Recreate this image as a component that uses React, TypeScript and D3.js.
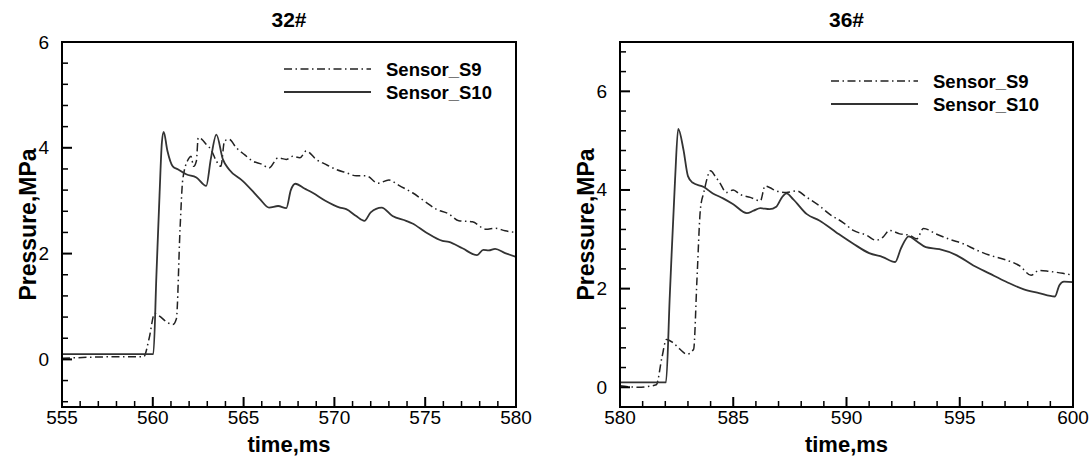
import React from "react";
import * as d3 from "d3";

// panel 32#  (time ms, pressure MPa)
const s9_32: [number, number][] = [
  [555, 0.02], [556.5, 0.04], [558, 0.05], [559.5, 0.05], [559.8, 0.4], [560.1, 0.87],
  [560.37, 0.82], [560.75, 0.71], [561.1, 0.66], [561.3, 0.77], [561.5, 2.46],
  [561.65, 3.4], [561.95, 3.78], [562.1, 3.84], [562.25, 3.65], [562.4, 3.75],
  [562.5, 4.19], [562.7, 4.16], [562.95, 4.06], [563.2, 3.97], [563.5, 3.75],
  [563.75, 3.65], [563.95, 4.13], [564.2, 4.16], [564.6, 4.0], [565.05, 3.87],
  [565.5, 3.75], [566.0, 3.69], [566.4, 3.62], [566.9, 3.81], [567.35, 3.78],
  [567.7, 3.84], [568.1, 3.81], [568.45, 3.94], [569.0, 3.78], [569.5, 3.69],
  [570.1, 3.59], [570.65, 3.53], [571.2, 3.47], [571.75, 3.47], [572.4, 3.33],
  [573.0, 3.39], [573.6, 3.28], [574.3, 3.15], [575.05, 2.97], [575.6, 2.84],
  [576.3, 2.75], [576.85, 2.62], [577.6, 2.6], [578.35, 2.46], [578.85, 2.48],
  [579.4, 2.43], [580, 2.4],
];

const s10_32: [number, number][] = [
  [555, 0.1], [558, 0.1], [560.03, 0.1], [560.2, 1.6], [560.37, 3.1], [560.5, 4.1],
  [560.6, 4.3], [560.8, 3.95], [561.1, 3.65], [561.4, 3.59], [561.84, 3.5],
  [562.4, 3.44], [562.94, 3.28], [563.2, 3.8], [563.5, 4.25], [563.86, 3.78],
  [564.2, 3.59], [564.96, 3.37], [565.5, 3.18], [565.9, 3.03], [566.4, 2.87],
  [566.9, 2.9], [567.35, 2.86], [567.6, 3.2], [567.85, 3.32], [568.35, 3.23],
  [568.8, 3.15], [569.5, 3.0], [570.3, 2.87], [570.65, 2.84], [571.2, 2.71],
  [571.65, 2.62], [572.0, 2.78], [572.6, 2.87], [573.2, 2.71], [573.95, 2.62],
  [574.3, 2.57], [575.05, 2.4], [575.95, 2.24], [576.3, 2.22], [577.05, 2.1],
  [577.85, 1.97], [578.2, 2.07], [578.5, 2.06], [578.85, 2.09], [579.4, 2.01],
  [580, 1.94],
];

// panel 36#
const s9_36: [number, number][] = [
  [580, 0.03], [580.8, 0.0], [581.6, 0.05], [581.85, 0.6], [582.05, 0.97],
  [582.35, 0.9], [582.65, 0.77], [582.95, 0.67], [583.25, 0.77], [583.4, 2.21],
  [583.55, 3.61], [583.7, 3.95], [584.0, 4.39], [584.2, 4.28], [584.4, 4.15],
  [584.7, 3.95], [585.0, 4.0], [585.3, 3.91], [585.75, 3.85], [586.2, 3.78],
  [586.4, 4.08], [586.6, 4.05], [586.9, 3.98], [587.35, 3.95], [587.8, 3.98],
  [588.25, 3.85], [588.8, 3.68], [589.25, 3.51], [589.85, 3.34], [590.3, 3.18],
  [590.9, 3.08], [591.3, 2.98], [591.6, 3.04], [591.9, 3.18], [592.35, 3.11],
  [592.8, 3.08], [593.1, 3.01], [593.4, 3.22], [593.95, 3.11], [594.55, 3.0],
  [595.15, 2.91], [595.75, 2.78], [596.3, 2.68], [597.05, 2.58], [597.65, 2.46],
  [598.15, 2.27], [598.5, 2.37], [598.95, 2.35], [599.55, 2.31], [600, 2.27],
];

const s10_36: [number, number][] = [
  [580, 0.1], [581, 0.1], [582.03, 0.1], [582.2, 1.87], [582.43, 4.2], [582.57, 5.24],
  [582.8, 4.82], [583.0, 4.28], [583.2, 4.15], [583.7, 4.06], [584.1, 3.93],
  [584.55, 3.83], [585.0, 3.71], [585.6, 3.53], [585.9, 3.58], [586.2, 3.63],
  [586.6, 3.61], [586.9, 3.66], [587.15, 3.85], [587.35, 3.93], [587.65, 3.81],
  [588.25, 3.51], [588.8, 3.38], [589.55, 3.14], [590.3, 2.91], [591.0, 2.72],
  [591.6, 2.64], [592.15, 2.54], [592.4, 2.81], [592.75, 3.06], [593.1, 2.96],
  [593.5, 2.84], [594.1, 2.8], [594.85, 2.68], [595.6, 2.47], [596.3, 2.31],
  [597.05, 2.14], [597.8, 1.99], [598.5, 1.91], [599.2, 1.84], [599.4, 2.07],
  [599.6, 2.14], [600, 2.13],
];

const seriesNames = ["Sensor_S9", "Sensor_S10"];

const font = "'Liberation Sans', Arial, Helvetica, sans-serif";
const plotTop = 42;
const plotBottom = 407;

type PanelProps = {
  title: string;
  left: number;
  right: number;
  xDomain: [number, number];
  yDomain: [number, number];
  s9: [number, number][];
  s10: [number, number][];
  legendX: number;
  legendY: number;
};

const Panel = ({ title, left, right, xDomain, yDomain, s9, s10, legendX, legendY }: PanelProps) => {
  const x = d3.scaleLinear().domain(xDomain).range([left, right]);
  const y = d3.scaleLinear().domain(yDomain).range([plotBottom, plotTop]);

  const line = d3
    .line<[number, number]>()
    .x((d) => x(d[0]))
    .y((d) => y(d[1]))
    .curve(d3.curveMonotoneX);

  const xMajor = d3.range(xDomain[0], xDomain[1] + 0.001, 5);
  const xMinor = d3.range(xDomain[0], xDomain[1] + 0.001, 1).filter((v) => (v - xDomain[0]) % 5 !== 0);
  const yMajor = [0, 2, 4, 6].filter((v) => v <= yDomain[1] + 0.001);
  const yMinor = d3
    .range(-4, 36)
    .map((k) => k * 0.4)
    .filter((v) => v >= yDomain[0] - 0.001 && v <= yDomain[1] + 0.001)
    .filter((v) => Math.abs(v / 2 - Math.round(v / 2)) > 0.01);

  const cx = (left + right) / 2;
  const cy = (plotTop + plotBottom) / 2;

  return (
    <g fontFamily={font}>
      <text x={cx} y={27} textAnchor="middle" fontSize={21} fontWeight="bold">
        {title}
      </text>

      <path d={line(s9) ?? ""} fill="none" stroke="#222" strokeWidth={1.5} strokeDasharray="8,3.5,1.5,3.5" />
      <path d={line(s10) ?? ""} fill="none" stroke="#333" strokeWidth={1.8} />

      {/* inward ticks */}
      {xMajor.map((v) => (
        <rect key={"xM" + v} x={x(v) - 1} y={plotBottom - 10} width={2} height={10} fill="#000" />
      ))}
      {xMinor.map((v) => (
        <rect key={"xm" + v} x={x(v) - 0.75} y={plotBottom - 6} width={1.5} height={6} fill="#000" />
      ))}
      {yMajor.map((v) => (
        <rect key={"yM" + v} x={left} y={y(v) - 1} width={10} height={2} fill="#000" />
      ))}
      {yMinor.map((v) => (
        <rect key={"ym" + v} x={left} y={y(v) - 0.75} width={6} height={1.5} fill="#000" />
      ))}

      {xMajor.map((v) => (
        <text key={"xl" + v} x={x(v)} y={424} textAnchor="middle" fontSize={19}>
          {v}
        </text>
      ))}
      {yMajor.map((v) => (
        <text key={"yl" + v} x={left - 13} y={y(v)} textAnchor="end" dominantBaseline="central" fontSize={19}>
          {v}
        </text>
      ))}

      <rect x={left} y={plotTop} width={right - left} height={plotBottom - plotTop} fill="none" stroke="#000" strokeWidth={2} />

      <text x={cx} y={452} textAnchor="middle" fontSize={22} fontWeight="bold">
        time,ms
      </text>
      <text
        transform={`translate(${left - 26},${cy}) rotate(-90)`}
        textAnchor="middle"
        fontSize={23}
        fontWeight="bold"
      >
        Pressure,MPa
      </text>

      {/* legend */}
      <line x1={legendX} x2={legendX + 87} y1={legendY} y2={legendY} stroke="#222" strokeWidth={1.5} strokeDasharray="8,3.5,1.5,3.5" />
      <line x1={legendX} x2={legendX + 87} y1={legendY + 23} y2={legendY + 23} stroke="#333" strokeWidth={1.8} />
      <text x={legendX + 102} y={legendY} dominantBaseline="central" fontSize={18.5} fontWeight="bold">
        {seriesNames[0]}
      </text>
      <text x={legendX + 102} y={legendY + 23} dominantBaseline="central" fontSize={18.5} fontWeight="bold">
        {seriesNames[1]}
      </text>
    </g>
  );
};

export default function App() {
  return (
    <svg width={1092} height={465} style={{ position: "absolute", left: 0, top: 0, background: "#fff" }}>
      <rect width={1092} height={465} fill="#fff" />
      <Panel title="32#" left={62} right={516} xDomain={[555, 580]} yDomain={[-0.9, 6]} s9={s9_32} s10={s10_32} legendX={284} legendY={69} />
      <Panel title="36#" left={620} right={1073} xDomain={[580, 600]} yDomain={[-0.4, 7]} s9={s9_36} s10={s10_36} legendX={831} legendY={81} />
    </svg>
  );
}
